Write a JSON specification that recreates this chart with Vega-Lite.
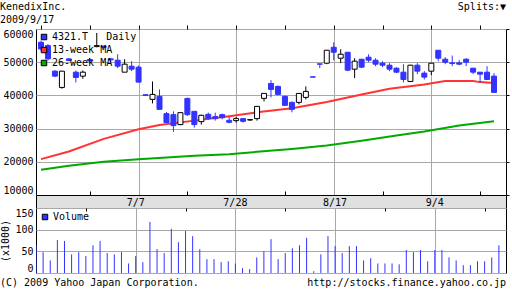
{
  "$schema": "https://vega.github.io/schema/vega-lite/v6.json",
  "padding": 0,
  "autosize": {"type": "pad"},
  "background": "white",
  "spacing": 0,
  "bounds": "flush",
  "resolve": {"scale": {"color": "independent"}, "legend": {"color": "independent"}},
  "datasets": {
    "candles": [
      {"i":0,"o":56000,"h":56500,"l":53500,"c":54000,"v":64},
      {"i":1,"o":55000,"h":55500,"l":50500,"c":51000,"v":48},
      {"i":2,"o":47300,"h":47600,"l":45500,"c":45800,"v":29},
      {"i":3,"o":42400,"h":47400,"l":42000,"c":47300,"v":76},
      {"i":4,"o":51000,"h":51200,"l":50300,"c":50500,"v":74},
      {"i":5,"o":47000,"h":47500,"l":43900,"c":45400,"v":43},
      {"i":6,"o":45800,"h":47500,"l":45000,"c":47000,"v":48},
      {"i":7,"o":50800,"h":51200,"l":50000,"c":50400,"v":39},
      {"i":8,"o":54700,"h":58800,"l":54500,"c":55000,"v":64},
      {"i":9,"o":54800,"h":55000,"l":54300,"c":54500,"v":74},
      {"i":10,"o":51000,"h":51200,"l":50000,"c":50700,"v":46},
      {"i":11,"o":50600,"h":52400,"l":48200,"c":48800,"v":43},
      {"i":12,"o":47000,"h":50900,"l":47000,"c":49400,"v":48},
      {"i":13,"o":48800,"h":50300,"l":47300,"c":47900,"v":22},
      {"i":14,"o":48500,"h":49000,"l":44000,"c":44000,"v":39},
      {"i":15,"o":40200,"h":40400,"l":39800,"c":40000,"v":25},
      {"i":16,"o":38800,"h":44200,"l":37600,"c":40300,"v":118},
      {"i":17,"o":39700,"h":41800,"l":35800,"c":35800,"v":55},
      {"i":18,"o":34500,"h":35000,"l":31700,"c":31800,"v":46},
      {"i":19,"o":34200,"h":35200,"l":29000,"c":30900,"v":102},
      {"i":20,"o":31200,"h":35000,"l":31000,"c":34800,"v":71},
      {"i":21,"o":39100,"h":39300,"l":33800,"c":34200,"v":97},
      {"i":22,"o":35200,"h":35200,"l":30300,"c":31200,"v":85},
      {"i":23,"o":32100,"h":34200,"l":31200,"c":34000,"v":55},
      {"i":24,"o":34300,"h":34800,"l":32700,"c":33000,"v":32},
      {"i":25,"o":33600,"h":34800,"l":32400,"c":33000,"v":32},
      {"i":26,"o":34200,"h":34500,"l":32800,"c":33300,"v":25},
      {"i":27,"o":32500,"h":33500,"l":31600,"c":31900,"v":27},
      {"i":28,"o":32400,"h":33500,"l":31800,"c":33000,"v":22},
      {"i":29,"o":33000,"h":33000,"l":31800,"c":32200,"v":11},
      {"i":30,"o":32600,"h":32700,"l":32300,"c":32700,"v":9},
      {"i":31,"o":33000,"h":36800,"l":32400,"c":36700,"v":36},
      {"i":32,"o":39100,"h":40700,"l":38200,"c":40600,"v":50},
      {"i":33,"o":43600,"h":44600,"l":39400,"c":41800,"v":78},
      {"i":34,"o":42700,"h":43000,"l":40000,"c":40300,"v":32},
      {"i":35,"o":39700,"h":39900,"l":36800,"c":37000,"v":46},
      {"i":36,"o":37900,"h":38200,"l":34900,"c":35800,"v":57},
      {"i":37,"o":37900,"h":40700,"l":37300,"c":40600,"v":64},
      {"i":38,"o":39400,"h":42700,"l":38800,"c":41200,"v":81},
      {"i":39,"o":45600,"h":45600,"l":45500,"c":45500,"v":4},
      {"i":40,"o":49500,"h":49500,"l":48200,"c":49400,"v":43},
      {"i":41,"o":49700,"h":53600,"l":49400,"c":53600,"v":85},
      {"i":42,"o":54500,"h":56000,"l":50600,"c":53000,"v":62},
      {"i":43,"o":51200,"h":53900,"l":49700,"c":52400,"v":46},
      {"i":44,"o":53000,"h":53000,"l":47300,"c":47600,"v":62},
      {"i":45,"o":47900,"h":51200,"l":45200,"c":50300,"v":62},
      {"i":46,"o":50900,"h":51000,"l":48200,"c":48500,"v":29},
      {"i":47,"o":51500,"h":52400,"l":50000,"c":50600,"v":34},
      {"i":48,"o":50600,"h":51200,"l":48800,"c":49400,"v":22},
      {"i":49,"o":49700,"h":50300,"l":48500,"c":49100,"v":22},
      {"i":50,"o":49100,"h":49700,"l":47300,"c":47900,"v":22},
      {"i":51,"o":48200,"h":48500,"l":46700,"c":47000,"v":20},
      {"i":52,"o":47000,"h":49400,"l":43900,"c":44800,"v":53},
      {"i":53,"o":44200,"h":49200,"l":44000,"c":49100,"v":48},
      {"i":54,"o":49100,"h":49700,"l":46400,"c":47300,"v":53},
      {"i":55,"o":46700,"h":47300,"l":44800,"c":45500,"v":27},
      {"i":56,"o":47300,"h":49700,"l":46100,"c":49700,"v":53},
      {"i":57,"o":53600,"h":53600,"l":50300,"c":51200,"v":53},
      {"i":58,"o":50900,"h":51500,"l":49400,"c":50000,"v":36},
      {"i":59,"o":49800,"h":52000,"l":48800,"c":49600,"v":29},
      {"i":60,"o":49800,"h":50600,"l":49100,"c":49400,"v":18},
      {"i":61,"o":50900,"h":51200,"l":48800,"c":50000,"v":18},
      {"i":62,"o":48200,"h":48200,"l":46400,"c":47000,"v":27},
      {"i":63,"o":47000,"h":47000,"l":43900,"c":46400,"v":27},
      {"i":64,"o":47000,"h":48800,"l":44800,"c":44800,"v":36},
      {"i":65,"o":45800,"h":46700,"l":40900,"c":40900,"v":64}
    ],
    "ma13": [
      {"i":0,"v":20800},{"i":4,"v":23100},{"i":9,"v":26900},{"i":14,"v":29800},
      {"i":17,"v":31100},{"i":22,"v":32400},{"i":27,"v":33700},{"i":31,"v":34900},
      {"i":36,"v":36150},{"i":41,"v":38000},{"i":46,"v":40300},{"i":50,"v":42000},
      {"i":55,"v":43300},{"i":58,"v":44300},{"i":62,"v":44300},{"i":63,"v":44000},{"i":65,"v":43700}
    ],
    "ma26": [
      {"i":0,"v":17600},{"i":4,"v":18800},{"i":9,"v":20000},{"i":14,"v":20800},
      {"i":18,"v":21300},{"i":22,"v":21800},{"i":27,"v":22300},{"i":31,"v":23000},
      {"i":36,"v":23850},{"i":41,"v":24900},{"i":46,"v":26350},{"i":51,"v":27900},
      {"i":55,"v":29100},{"i":60,"v":30900},{"i":65,"v":32200}
    ],
    "legendMain": [{"s":"4321.T\u00a0\u00a0\u00a0Daily"},{"s":"13-week MA"},{"s":"26-week MA"}],
    "legendVol": [{"s":"Volume"}],
    "dates": [{"i":14,"d":"7/7"},{"i":28,"d":"7/28"},{"i":42,"d":"8/17"},{"i":56,"d":"9/4"}]
  },
  "vconcat": [
    {
      "width": 470, "height": 29,
      "view": {"stroke": null},
      "layer": [
        {
          "data": {"values": [{"t":"KenedixInc.","r":"a"},{"t":"2009/9/17","r":"b"}]},
          "mark": {"type":"text","align":"left","baseline":"middle","dx":-36},
          "encoding": {
            "x": {"datum": 0, "type": "quantitative", "scale": {"domain":[0,1]}, "axis": null},
            "y": {"field":"r","type":"ordinal","scale":{"type":"point","domain":["a","b"],"range":[7,20],"padding":0},"axis":null},
            "text": {"field":"t"}
          }
        },
        {
          "data": {"values": [{"t":"Splits:\u25bc","r":"a"}]},
          "mark": {"type":"text","align":"right","baseline":"middle"},
          "encoding": {
            "x": {"datum": 1, "type": "quantitative", "axis": null},
            "y": {"field":"r","type":"ordinal","axis":null},
            "text": {"field":"t"}
          }
        }
      ]
    },
    {
      "width": 470, "height": 166,
      "layer": [
        {
          "data": {"name": "ma26"},
          "mark": {"type":"line","color":"#00aa00","strokeWidth":2},
          "encoding": {
            "x": {"field":"i","type":"quantitative","scale":{"domain":[0,66],"nice":false,"zero":false},
              "axis": {"orient":"bottom","values":[7,14,21,28,35,42,49,56,63],"labels":false,"domain":false,"title":null,
                "ticks":true,"tickSize":-4,"tickColor":"black",
                "tickOpacity":{"condition":{"test":"datum.value % 14 !== 0","value":1},"value":0},
                "grid":true,"gridOpacity":{"condition":{"test":"datum.value % 14 === 0","value":1},"value":0}}},
            "y": {"field":"v","type":"quantitative","scale":{"domain":[10000,60000],"nice":false,"zero":false},
              "axis": {"orient":"left","values":[10000,20000,30000,40000,50000,60000],"format":"d","labelFlush":true,"labelPadding":3,"grid":true,"ticks":false,"domain":false,"title":null}}
          }
        },
        {
          "data": {"name": "ma13"},
          "mark": {"type":"line","color":"#ff3333","strokeWidth":2},
          "encoding": {
            "x": {"field":"i","type":"quantitative",
              "axis": {"orient":"top","values":[0,7,14,21,28,35,42,49,56,63],"labels":false,"domain":false,"title":null,"grid":false,"ticks":true,"tickSize":4,"tickColor":"black"}},
            "y": {"field":"v","type":"quantitative",
              "axis": {"orient":"right","values":[10000,20000,30000,40000,50000,60000],"labels":false,"grid":false,"ticks":true,"tickSize":3,"tickColor":"black","domain":false,"title":null}}
          }
        },
        {
          "data": {"name": "candles"},
          "mark": {"type":"rule","strokeWidth":1,"clip":true},
          "encoding": {
            "x": {"field":"i","type":"quantitative","axis":null},
            "y": {"field":"l","type":"quantitative","axis":null},
            "y2": {"field":"h"},
            "color": {"condition":{"test":"datum.c >= datum.o","value":"black"},"value":"#3333ff"}
          }
        },
        {
          "data": {"name": "candles"},
          "mark": {"type":"bar","size":5,"strokeWidth":1,"clip":true},
          "encoding": {
            "x": {"field":"i","type":"quantitative","axis":null},
            "y": {"field":"o","type":"quantitative","axis":null},
            "y2": {"field":"c"},
            "fill": {"condition":{"test":"datum.c >= datum.o","value":"white"},"value":"#3333ff"},
            "stroke": {"condition":{"test":"datum.c >= datum.o","value":"black"},"value":"#3333ff"}
          }
        },
        {
          "data": {"name": "legendMain"},
          "mark": {"type":"square","opacity":0},
          "encoding": {
            "color": {"field":"s","type":"nominal",
              "scale":{"domain":["4321.T\u00a0\u00a0\u00a0Daily","13-week MA","26-week MA"],"range":["#3333ff","#ff3333","#00aa00"]},
              "legend":{"orient":"top-left","offset":3,"padding":0,"title":null,"symbolType":"square","symbolSize":30,
                "symbolOpacity":1,"symbolStrokeColor":"black","symbolStrokeWidth":1,"rowPadding":3,"labelOffset":3}}
          }
        }
      ],
      "resolve": {"axis": {"x":"independent","y":"independent"}}
    },
    {
      "width": 470, "height": 13,
      "view": {"fill": "#e0e0e0", "stroke": "black"},
      "data": {"name": "dates"},
      "mark": {"type":"text","baseline":"middle","align":"center","dy":1},
      "encoding": {
        "x": {"field":"i","type":"quantitative","scale":{"domain":[0,66],"nice":false,"zero":false},"axis":null},
        "text": {"field":"d"}
      }
    },
    {
      "width": 470, "height": 65,
      "layer": [
        {
          "data": {"name": "candles"},
          "mark": {"type":"rule","color":"#3333ff","strokeWidth":1,"clip":true},
          "encoding": {
            "x": {"field":"i","type":"quantitative","scale":{"domain":[0,66],"nice":false,"zero":false},
              "axis": {"orient":"top","values":[7,14,21,28,35,42,49,56,63],"labels":false,"domain":false,"title":null,
                "ticks":true,"tickSize":-3,"tickColor":"black",
                "tickOpacity":{"condition":{"test":"datum.value % 14 !== 0","value":1},"value":0},
                "grid":true,"gridOpacity":{"condition":{"test":"datum.value % 14 === 0","value":1},"value":0}}},
            "y": {"field":"v","type":"quantitative","scale":{"domain":[0,150],"nice":false},
              "axis": {"values":[0,50,100,150],"labelFlush":true,"labelPadding":3,"grid":true,"ticks":false,"domain":false,
                "title":"(x1000)","titleFontWeight":"normal","titleFontSize":10,"titlePadding":4}},
            "y2": {"datum": 0}
          }
        },
        {
          "data": {"name": "legendVol"},
          "mark": {"type":"square","opacity":0},
          "encoding": {
            "color": {"field":"s","type":"nominal","scale":{"domain":["Volume"],"range":["#3333ff"]},
              "legend":{"orient":"top-left","offset":4,"padding":0,"title":null,"symbolType":"square","symbolSize":30,
                "symbolOpacity":1,"symbolStrokeColor":"black","symbolStrokeWidth":1,"labelOffset":3}}
          }
        }
      ]
    },
    {
      "width": 470, "height": 19,
      "view": {"stroke": null},
      "layer": [
        {
          "data": {"values": [{"t":"(C) 2009 Yahoo Japan Corporation."}]},
          "mark": {"type":"text","align":"left","baseline":"middle","dx":-36},
          "encoding": {
            "x": {"datum": 0, "type":"quantitative","scale":{"domain":[0,1]},"axis":null},
            "text": {"field":"t"}
          }
        },
        {
          "data": {"values": [{"t":"http://stocks.finance.yahoo.co.jp"}]},
          "mark": {"type":"text","align":"right","baseline":"middle"},
          "encoding": {
            "x": {"datum": 1, "type":"quantitative","axis":null},
            "text": {"field":"t"}
          }
        }
      ]
    }
  ],
  "config": {
    "font": "DejaVu Sans Mono",
    "view": {"stroke": "black", "strokeWidth": 1},
    "axis": {"labelFont":"DejaVu Sans Mono","labelFontSize":10,"labelColor":"black","titleFont":"DejaVu Sans Mono","titleColor":"black","gridColor":"#a8a8a8","gridWidth":1},
    "legend": {"labelFont":"DejaVu Sans Mono","labelFontSize":10,"labelColor":"black"},
    "text": {"font":"DejaVu Sans Mono","fontSize":10,"color":"black"}
  }
}
